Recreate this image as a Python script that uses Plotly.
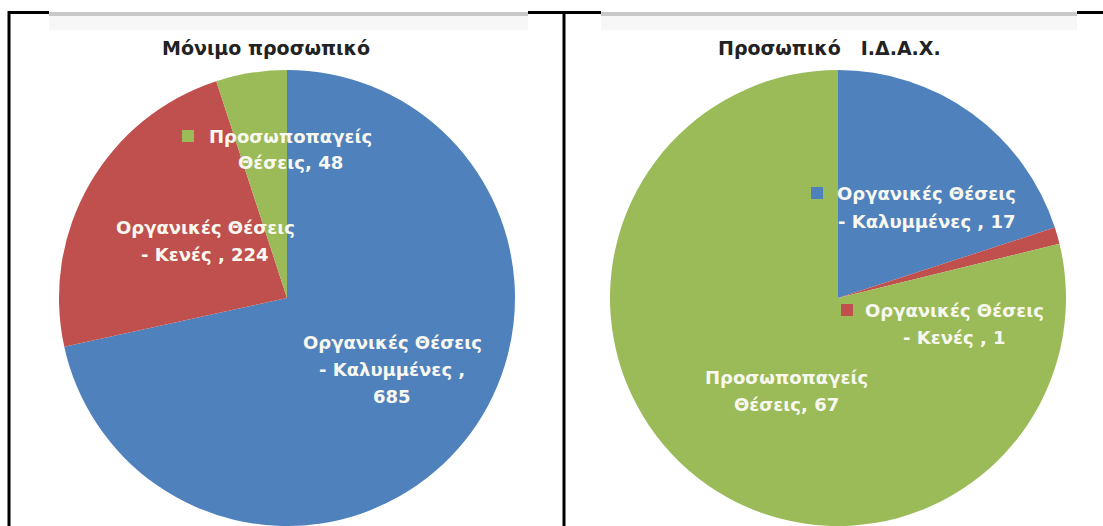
import plotly.graph_objects as go

# ---------------- data ----------------
categories = ["Οργανικές Θέσεις - Καλυμμένες ", "Οργανικές Θέσεις - Κενές ", "Προσωποπαγείς Θέσεις"]
permanent_values = [685, 224, 48]
idax_values = [17, 1, 67]
titles = ["Μόνιμο προσωπικό", "Προσωπικό   Ι.Δ.Α.Χ."]
colors = ["#4F81BD", "#C0504D", "#9BBB59"]

W, H = 1103, 526
FONT = "DejaVu Sans"


def px(x):
    return x / W


def py(y):
    return 1 - y / H


def label_lines(cat, val, value_on_new_line=False):
    if " - " in cat:
        head, _, tail = cat.partition(" - ")
        second = "- " + tail
    else:
        head, _, second = cat.partition(" ")
    if value_on_new_line:
        return [head, f"{second},", f"{val}"]
    return [head, f"{second}, {val}"]


fig = go.Figure()

R = 228
pie_centers = [(287, 298), (838, 298)]
for (cx, cy), vals in zip(pie_centers, [permanent_values, idax_values]):
    fig.add_trace(go.Pie(
        labels=categories, values=vals, sort=False, direction="clockwise", rotation=0,
        marker=dict(colors=colors, line=dict(width=0)),
        textinfo="none", hoverinfo="label+value", showlegend=False,
        domain=dict(x=[px(cx - R), px(cx + R)], y=[py(cy + R), py(cy - R)]),
    ))

annotations = []
# titles
for tx, t in zip([266, 829], titles):
    annotations.append(dict(x=px(tx), y=py(48), xref="paper", yref="paper", text=f"<b>{t}</b>",
                            showarrow=False, font=dict(family=FONT, size=19, color="#222222"),
                            xanchor="center", yanchor="middle"))

# data labels: (series values, category index, center x, first line y, value on new line)
LINE = 27
label_specs = [
    (permanent_values, 0, 392, 342, True),
    (permanent_values, 1, 205, 227, False),
    (permanent_values, 2, 290, 136, False),
    (idax_values, 0, 927, 194, False),
    (idax_values, 1, 954, 310, False),
    (idax_values, 2, 786, 377, False),
]
for vals, i, lx, ly, nl in label_specs:
    for k, line in enumerate(label_lines(categories[i], vals[i], nl)):
        annotations.append(dict(x=px(lx), y=py(ly + k * LINE), xref="paper", yref="paper",
                                text=f"<b>{line}</b>", showarrow=False,
                                font=dict(family=FONT, size=18, color="#f8f8f0"),
                                xanchor="center", yanchor="middle"))

shapes = []
# legend keys inside labels
for (kx, ky), ci in [((188, 136), 2), ((817, 193), 0), ((847, 310), 1)]:
    shapes.append(dict(type="rect", xref="paper", yref="paper",
                       x0=px(kx - 6), x1=px(kx + 6), y0=py(ky + 6), y1=py(ky - 6),
                       fillcolor=colors[ci], line=dict(width=0)))

# gray top bands of each chart image
for x0, x1 in [(49, 528), (601, 1077)]:
    shapes.append(dict(type="rect", xref="paper", yref="paper", layer="below",
                       x0=px(x0), x1=px(x1), y0=py(30), y1=py(15),
                       fillcolor="#f7f7f7", line=dict(width=0)))
    shapes.append(dict(type="rect", xref="paper", yref="paper",
                       x0=px(x0), x1=px(x1), y0=py(16), y1=py(12),
                       fillcolor="#c8c8c8", line=dict(width=0)))

# black table borders
for x0, x1 in [(8, 49), (528, 601), (1077, 1103)]:
    shapes.append(dict(type="line", xref="paper", yref="paper", x0=px(x0), x1=px(x1),
                       y0=py(12.5), y1=py(12.5), line=dict(color="black", width=3)))
for xv in [9, 564]:
    shapes.append(dict(type="line", xref="paper", yref="paper", x0=px(xv), x1=px(xv),
                       y0=py(11), y1=py(530), line=dict(color="black", width=3)))

fig.update_layout(
    width=W, height=H, margin=dict(l=0, r=0, t=0, b=0),
    paper_bgcolor="white", plot_bgcolor="white",
    annotations=annotations, shapes=shapes,
)

fig.write_html("out.html", config={"displayModeBar": False},
               post_script="document.body.style.margin='0';document.body.style.overflow='hidden';")
